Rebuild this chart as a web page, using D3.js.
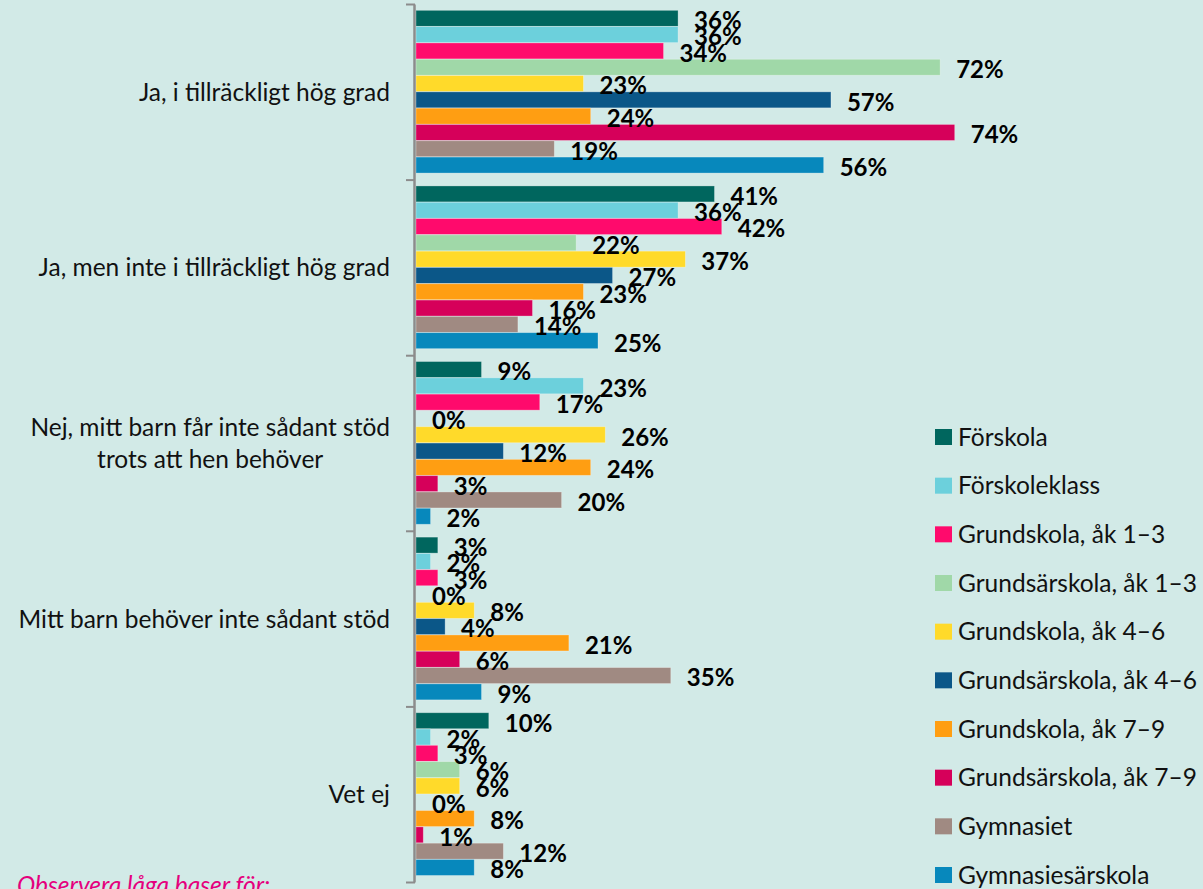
<!DOCTYPE html>
<html>
<head>
<meta charset="utf-8">
<script src="https://cdn.jsdelivr.net/npm/d3@7"></script>
<style>
  html, body { margin: 0; padding: 0; background: #d2eae7; overflow: hidden; }
  svg { display: block; font-family: Lato, 'Open Sans', sans-serif; }
</style>
</head>
<body>
<div id="chart"></div>
<script>
const WIDTH = 1203
const HEIGHT = 889

// data (andel i procent)

const categories = [
  'Ja, i tillräckligt hög grad',
  'Ja, men inte i tillräckligt hög grad',
  'Nej, mitt barn får inte sådant stöd\ntrots att hen behöver',
  'Mitt barn behöver inte sådant stöd',
  'Vet ej'
]

const series = [
  'Förskola', 'Förskoleklass', 'Grundskola, åk 1–3', 'Grundsärskola, åk 1–3',
  'Grundskola, åk 4–6', 'Grundsärskola, åk 4–6', 'Grundskola, åk 7–9',
  'Grundsärskola, åk 7–9', 'Gymnasiet', 'Gymnasiesärskola'
]

const colors = [
  '#00665e', '#6cd0dc', '#ff0a6c', '#a0d8a8', '#ffda2a',
  '#0b5788', '#ff9e12', '#d6005a', '#a08a82', '#0788bc'
]

const forskola        = [36, 41,  9,  3, 10]
const forskoleklass   = [36, 36, 23,  2,  2]
const grundskola13    = [34, 42, 17,  3,  3]
const grundsar13      = [72, 22,  0,  0,  6]
const grundskola46    = [23, 37, 26,  8,  6]
const grundsar46      = [57, 27, 12,  4,  0]
const grundskola79    = [24, 23, 24, 21,  8]
const grundsar79      = [74, 16,  3,  6,  1]
const gymnasiet       = [19, 14, 20, 35, 12]
const gymnasiesar     = [56, 25,  2,  9,  8]

const values = [forskola, forskoleklass, grundskola13, grundsar13, grundskola46,
                grundsar46, grundskola79, grundsar79, gymnasiet, gymnasiesar]

const note = 'Observera låga baser för:'

const TEXT_SIZE = 24.5

// flatten to bar records

let bars = []
categories.forEach((c, ci) => {
  series.forEach((s, si) => {
    bars.push({ cat: c, series: s, value: values[si][ci], color: colors[si] })
  })
})

let svg = d3.select('#chart')
  .append('svg')
    .attr('width', WIDTH)
    .attr('height', HEIGHT)

svg.append('rect')
  .attr('width', WIDTH)
  .attr('height', HEIGHT)
  .attr('fill', '#d2eae7')

let x = d3.scaleLinear()
  .domain([0, 100])
  .range([416, 1144])

let y = d3.scaleBand()
  .domain(categories)
  .range([4.5, 882.5])

let yInner = d3.scaleBand()
  .domain(series)
  .range([0, y.bandwidth()])
  .paddingOuter(0.385)
  .align(0.44)

// bars

svg.append('g')
    .attr('class', 'bars')
  .selectAll('rect')
    .data(bars)
  .enter().append('rect')
    .attr('x', x(0))
    .attr('y', (d) => y(d.cat) + yInner(d.series) + 0.3)
    .attr('width', (d) => x(d.value) - x(0))
    .attr('height', yInner.bandwidth() - 0.3)
    .attr('fill', (d) => d.color)
    .attr('stroke', 'rgba(255,255,255,0.35)')
    .attr('stroke-width', 0.8)

// axis (category side)

let axis = svg.append('g').attr('class', 'axis')

axis.append('line')
  .attr('x1', 414.5).attr('x2', 414.5)
  .attr('y1', y.range()[0]).attr('y2', y.range()[1])
  .attr('stroke', '#8c8c8c')
  .attr('stroke-width', 2.5)

let edges = categories.map((c) => y(c)).concat([y.range()[1]])
axis.selectAll('.tick')
    .data(edges)
  .enter().append('line')
    .attr('class', 'tick')
    .attr('x1', 406).attr('x2', 415)
    .attr('y1', (d) => d).attr('y2', (d) => d)
    .attr('stroke', '#8c8c8c')
    .attr('stroke-width', 2)

let catLabels = axis.selectAll('.cat')
    .data(categories)
  .enter().append('text')
    .attr('class', 'cat')
    .attr('font-size', TEXT_SIZE)
    .attr('fill', '#111')
    .attr('text-anchor', 'middle')

catLabels.each(function(d) {
  let lines = d.split('\n')
  let t = d3.select(this)
  let lh = 32
  let cy = y(d) + y.bandwidth() / 2 - (lines.length - 1) * lh / 2
  lines.forEach((l, i) => {
    t.append('tspan')
      .attr('y', cy + i * lh)
      .attr('dy', '0.35em')
      .text(l)
  })
  let w = d3.max(t.selectAll('tspan').nodes(), (n) => n.getComputedTextLength())
  t.selectAll('tspan').attr('x', 390 - w / 2)
})

// value labels (drawn on top of all bars)

svg.append('g')
    .attr('class', 'labels')
  .selectAll('text')
    .data(bars)
  .enter().append('text')
    .attr('x', (d) => x(d.value) + 16)
    .attr('y', (d) => y(d.cat) + yInner(d.series) + yInner.bandwidth() / 2 + 11)
    .attr('font-size', 24)
    .attr('font-weight', 'bold')
    .attr('fill', '#000')
    .text((d) => d.value + '%')

// legend

let ly = d3.scalePoint()
  .domain(series)
  .range([437, 875])

let legend = svg.append('g')
    .attr('class', 'legend')
  .selectAll('g')
    .data(series)
  .enter().append('g')
    .attr('transform', (d) => 'translate(935,' + ly(d) + ')')

legend.append('rect')
  .attr('x', 0)
  .attr('y', -8)
  .attr('width', 17)
  .attr('height', 16)
  .attr('fill', (d, i) => colors[i])

legend.append('text')
  .attr('x', 23)
  .attr('dy', '0.35em')
  .attr('font-size', TEXT_SIZE)
  .attr('fill', '#111')
  .text((d) => d)

// note at the bottom

svg.append('text')
  .attr('x', 17)
  .attr('y', 894)
  .attr('font-size', TEXT_SIZE)
  .attr('font-style', 'italic')
  .attr('fill', '#e5007d')
  .text(note)
</script>
</body>
</html>
